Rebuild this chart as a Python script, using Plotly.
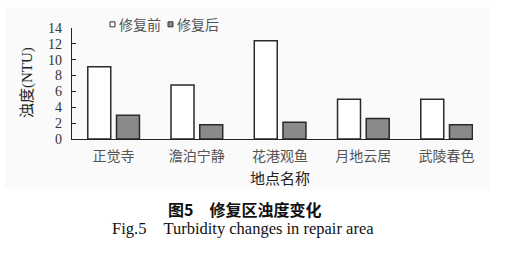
import plotly.graph_objects as go

sites = ["正觉寺", "澹泊宁静", "花港观鱼", "月地云居", "武陵春色"]
before = [9.1, 6.8, 12.4, 5.0, 5.0]
after = [3.0, 1.8, 2.1, 2.6, 1.8]
series_names = ["修复前", "修复后"]
y_ticks = [0, 2, 4, 6, 8, 10, 12, 14]

W, H = 508, 257
L, R, T, B = 72, 35, 27.7, 117.7
pw, ph = W - L - R, H - T - B

def px(x):
    return (x - L) / pw

def py(y):
    return (H - B - y) / ph

CJK = "Noto Sans CJK SC, sans-serif"
SERIF = "Liberation Serif, Noto Sans CJK SC, serif"

fig = go.Figure()
fig.add_bar(x=sites, y=before, name=series_names[0],
            marker=dict(color="white", line=dict(color="#2a2a2a", width=1.5)))
fig.add_bar(x=sites, y=after, name=series_names[1],
            marker=dict(color="#8a8a8a", line=dict(color="#2a2a2a", width=1.5)))

shapes = [
    dict(type="rect", xref="paper", yref="paper", x0=px(5), x1=px(490),
         y0=py(189), y1=py(7), fillcolor="#fafafa", line=dict(width=0), layer="below"),
    dict(type="rect", xref="paper", yref="paper", x0=px(110), x1=px(115),
         y0=py(26.5), y1=py(21.5), fillcolor="white", line=dict(color="#333", width=1)),
    dict(type="rect", xref="paper", yref="paper", x0=px(168), x1=px(173),
         y0=py(26.5), y1=py(21.5), fillcolor="#8a8a8a", line=dict(color="#333", width=1)),
]

annotations = [
    dict(text=series_names[0], x=px(116.5), y=py(23.5), xref="paper", yref="paper",
         xanchor="left", yanchor="middle", showarrow=False,
         font=dict(family=CJK, size=14, color="#555")),
    dict(text=series_names[1], x=px(174.5), y=py(23.5), xref="paper", yref="paper",
         xanchor="left", yanchor="middle", showarrow=False,
         font=dict(family=CJK, size=14, color="#555")),
    dict(text="浊度(NTU)", x=px(27), y=py(83), xref="paper", yref="paper",
         textangle=-90, xanchor="center", yanchor="middle", showarrow=False,
         font=dict(family=SERIF, size=15, color="#222")),
    dict(text="地点名称", x=px(280), y=py(178), xref="paper", yref="paper",
         xanchor="center", yanchor="middle", showarrow=False,
         font=dict(family=CJK, size=15, color="#222")),
    dict(text="<b>图5　修复区浊度变化</b>", x=px(244), y=py(210), xref="paper", yref="paper",
         xanchor="center", yanchor="middle", showarrow=False,
         font=dict(family=CJK, size=16, color="#111")),
    dict(text="Fig.5　Turbidity changes in repair area", x=px(243), y=py(229),
         xref="paper", yref="paper", xanchor="center", yanchor="middle", showarrow=False,
         font=dict(family="Liberation Serif, serif", size=16.5, color="#111")),
]

fig.update_layout(
    width=W, height=H,
    margin=dict(l=L, r=R, t=T, b=B, pad=0),
    paper_bgcolor="white", plot_bgcolor="rgba(0,0,0,0)",
    barmode="group", bargap=0.31, bargroupgap=0.2,
    showlegend=False,
    shapes=shapes, annotations=annotations,
    xaxis=dict(range=[-0.5, 4.317], showline=True, linecolor="#222", linewidth=1.3,
               ticks="", showgrid=False, zeroline=False,
               tickfont=dict(family=CJK, size=14, color="#555"), ticklabelstandoff=4),
    yaxis=dict(range=[0, 14], tickvals=y_ticks, showline=True, linecolor="#222",
               linewidth=1.3, ticks="inside", ticklen=4, tickcolor="#222",
               showgrid=False, zeroline=False,
               tickfont=dict(family="Liberation Serif, serif", size=14, color="#333"),
               ticklabelstandoff=6),
)

fig.write_html("out.html")
